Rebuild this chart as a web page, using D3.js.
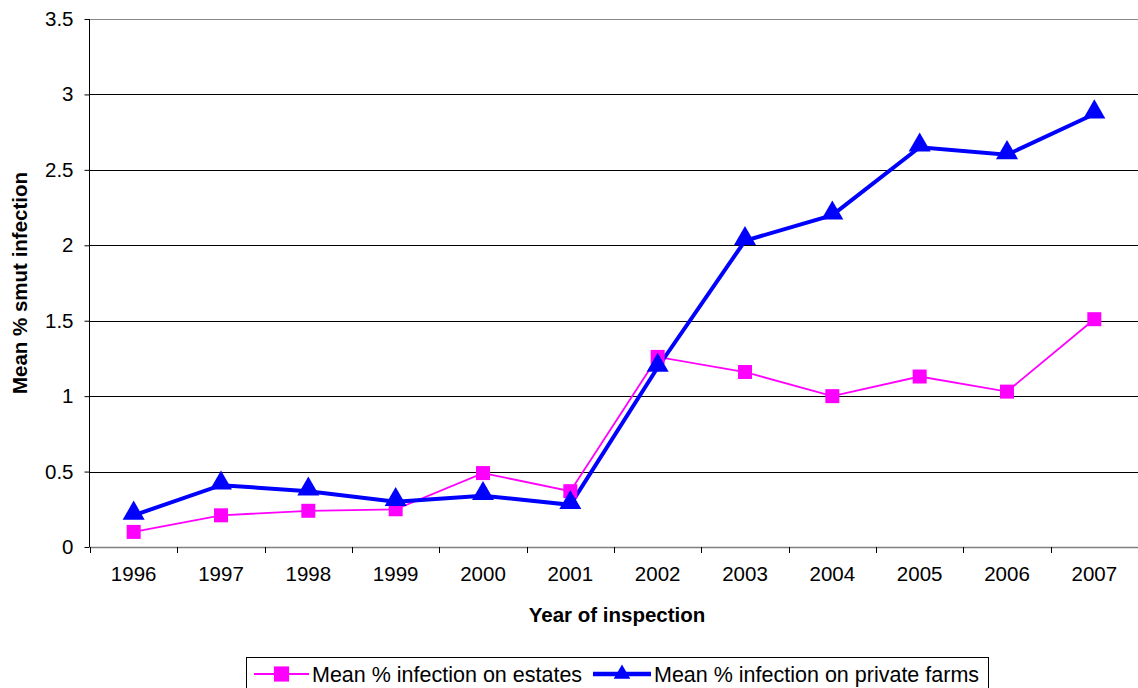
<!DOCTYPE html>
<html>
<head>
<meta charset="utf-8">
<script src="https://cdn.jsdelivr.net/npm/d3@7"></script>
<style>
  body { margin: 0; background: #fff; overflow: hidden; }
  svg { display: block; font-family: "Liberation Sans", Arial, sans-serif; }
</style>
</head>
<body>
<svg id="chart"></svg>
<script>
// Data
const years = ["1996", "1997", "1998", "1999", "2000", "2001", "2002", "2003", "2004", "2005", "2006", "2007"];
const estates = [0.10, 0.21, 0.24, 0.25, 0.49, 0.37, 1.26, 1.16, 1.00, 1.13, 1.03, 1.51];
const privateFarms = [0.21, 0.41, 0.37, 0.30, 0.34, 0.28, 1.19, 2.03, 2.20, 2.65, 2.60, 2.87];
const yTicks = [0, 0.5, 1, 1.5, 2, 2.5, 3, 3.5];

const width = 1138, height = 688;
const margin = { top: 19, right: 0, bottom: 141, left: 90 };
const innerWidth = width - margin.left - margin.right;
const innerHeight = height - margin.top - margin.bottom;

const svg = d3.select("#chart").attr("width", width).attr("height", height);
const g = svg.append("g").attr("transform", `translate(${margin.left},${margin.top})`);

const x = d3.scaleBand().domain(years).range([0, innerWidth]);
const y = d3.scaleLinear().domain([0, 3.5]).range([innerHeight, 0]);

// Grid lines
g.append("g")
  .selectAll("line")
  .data(yTicks.filter(d => d > 0))
  .join("line")
  .attr("x1", 0).attr("x2", innerWidth)
  .attr("y1", d => Math.round(y(d)) + 0.5).attr("y2", d => Math.round(y(d)) + 0.5)
  .attr("stroke", d => d === 3.5 ? "#888" : "#000")
  .attr("stroke-width", 1);

// Y axis
const yAxis = g.append("g")
  .attr("transform", "translate(-0.5,0)")
  .call(d3.axisLeft(y).tickValues(yTicks).tickSize(5).tickPadding(11).tickFormat(d => d));
yAxis.select(".domain").attr("stroke", "#000").attr("d", `M0,0V${innerHeight}`);
yAxis.selectAll("text").style("font-size", "20.5px").attr("fill", "#000");

// X axis
const xAxis = g.append("g")
  .attr("transform", `translate(0,${innerHeight + 0.5})`)
  .call(d3.axisBottom(x).tickSize(0).tickPadding(19));
xAxis.select(".domain").attr("stroke", "#808080").attr("stroke-width", 1.5).attr("d", `M0,0H${innerWidth}`);
xAxis.selectAll("text").style("font-size", "20.5px").attr("fill", "#000");
g.append("g")
  .selectAll("line")
  .data(d3.range(years.length + 1))
  .join("line")
  .attr("x1", i => Math.round(i * x.step()) + 0.5).attr("x2", i => Math.round(i * x.step()) + 0.5)
  .attr("y1", innerHeight).attr("y2", innerHeight + 6)
  .attr("stroke", "#000");

// Axis titles
g.append("text")
  .attr("x", innerWidth / 2 + 3)
  .attr("y", innerHeight + 75)
  .attr("text-anchor", "middle")
  .style("font-size", "20.5px").style("font-weight", "bold")
  .text("Year of inspection");

g.append("text")
  .attr("transform", "rotate(-90)")
  .attr("x", -innerHeight / 2)
  .attr("y", -63)
  .attr("text-anchor", "middle")
  .style("font-size", "20.5px").style("font-weight", "bold")
  .text("Mean % smut infection");

const cx = (d, i) => x(years[i]) + x.bandwidth() / 2;
const line = d3.line().x((d, i) => cx(d, i)).y(d => y(d));

// Estates series
g.append("path").datum(estates)
  .attr("fill", "none").attr("stroke", "#ff00ff").attr("stroke-width", 1.8)
  .attr("d", line);

// Private farms series
g.append("path").datum(privateFarms)
  .attr("fill", "none").attr("stroke", "#0000ff").attr("stroke-width", 4)
  .attr("d", line);

const squareSym = d3.symbol().type(d3.symbolSquare).size(196);
const triSym = d3.symbol().type(d3.symbolTriangle).size(210);

g.append("g").selectAll("path")
  .data(estates)
  .join("path")
  .attr("transform", (d, i) => `translate(${cx(d, i)},${y(d)})`)
  .attr("d", squareSym)
  .attr("fill", "#ff00ff");

g.append("g").selectAll("path")
  .data(privateFarms)
  .join("path")
  .attr("transform", (d, i) => `translate(${cx(d, i)},${y(d) - 2})`)
  .attr("d", triSym)
  .attr("fill", "#0000ff");

// Legend
const legend = svg.append("g").attr("transform", "translate(246,657)");
legend.append("rect")
  .attr("x", 0.5).attr("y", 0.5).attr("width", 742).attr("height", 40)
  .attr("fill", "#fff").attr("stroke", "#000");

const legendItems = [
  { label: "Mean % infection on estates", color: "#ff00ff", width: 1.8, sym: d3.symbol().type(d3.symbolSquare).size(230), x: 8, w: 55 },
  { label: "Mean % infection on private farms", color: "#0000ff", width: 4.5, sym: d3.symbol().type(d3.symbolTriangle).size(120), x: 347, w: 58 }
];
legendItems.forEach(it => {
  const li = legend.append("g").attr("transform", `translate(${it.x},17)`);
  li.append("line").attr("x1", 0).attr("x2", it.w).attr("y1", 0).attr("y2", 0)
    .attr("stroke", it.color).attr("stroke-width", it.width);
  li.append("path").attr("transform", `translate(${it.w / 2},0)`)
    .attr("d", it.sym).attr("fill", it.color);
  li.append("text").attr("x", it.w + 3).attr("y", 8)
    .style("font-size", "21.5px").attr("fill", "#000")
    .text(it.label);
});
</script>
</body>
</html>
